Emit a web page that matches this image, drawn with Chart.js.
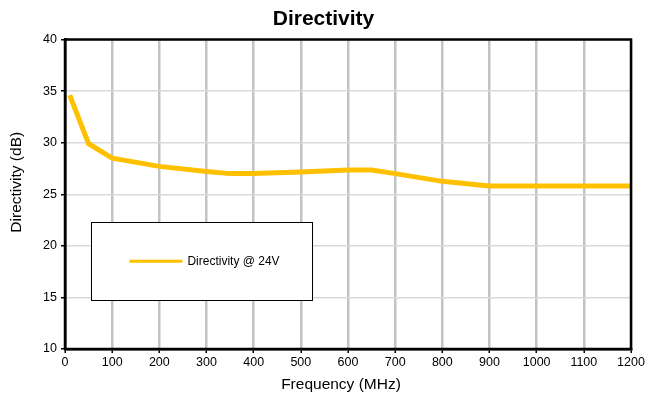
<!DOCTYPE html>
<html>
<head>
<meta charset="utf-8">
<script src="https://cdn.jsdelivr.net/npm/chart.js@4"></script>
<style>
html,body{margin:0;padding:0;background:#fff;}
#wrap{width:656px;height:400px;position:relative;}
</style>
</head>
<body>
<div id="wrap"><canvas id="c" width="656" height="400"></canvas></div>
<script>
const frequencies = [10, 50, 100, 200, 300, 350, 400, 500, 600, 650, 700, 800, 900, 1000, 1100, 1200];
const directivity = [34.6, 29.9, 28.5, 27.7, 27.2, 27.0, 27.0, 27.15, 27.35, 27.35, 27.0, 26.25, 25.8, 25.8, 25.8, 25.8];
const seriesLabel = 'Directivity @ 24V';
const chartTitle = 'Directivity';
const xTitle = 'Frequency (MHz)';
const yTitle = 'Directivity (dB)';

const FONT = 'Liberation Sans, Arial, sans-serif';

const frame = {
  id: 'frame',
  afterDraw(chart) {
    const {ctx, chartArea: a} = chart;
    ctx.save();
    ctx.strokeStyle = '#000';
    ctx.lineWidth = 2.5;
    ctx.strokeRect(a.left, a.top, a.right - a.left, a.bottom - a.top);
    ctx.restore();
  }
};

// axis titles placed like the original (centred on the whole chart box rather than the plot)
const axisTitles = {
  id: 'axisTitles',
  afterDraw(chart) {
    const {ctx, chartArea: a} = chart;
    ctx.save();
    ctx.fillStyle = '#000';
    ctx.font = '15.5px ' + FONT;
    ctx.textAlign = 'center';
    ctx.textBaseline = 'middle';
    ctx.fillText(xTitle, a.left + (a.right - a.left) / 2 - 7, 385);
    ctx.translate(17, a.top + (a.bottom - a.top) / 2 - 12);
    ctx.rotate(-Math.PI / 2);
    ctx.fillText(yTitle, 0, 0);
    ctx.restore();
  }
};

const innerLegend = {
  id: 'innerLegend',
  afterDraw(chart) {
    const {ctx} = chart;
    const xs = chart.scales.x, ys = chart.scales.y;
    const ds = chart.data.datasets[0];
    const x0 = xs.getPixelForValue(56), x1 = xs.getPixelForValue(525);
    const y0 = ys.getPixelForValue(22.3), y1 = ys.getPixelForValue(14.7);
    ctx.save();
    ctx.fillStyle = '#fff';
    ctx.fillRect(x0, y0, x1 - x0, y1 - y0);
    ctx.strokeStyle = '#000';
    ctx.lineWidth = 1;
    ctx.strokeRect(Math.round(x0) + 0.5, Math.round(y0) + 0.5, Math.round(x1 - x0), Math.round(y1 - y0));
    const ly = (y0 + y1) / 2;
    ctx.strokeStyle = ds.borderColor;
    ctx.lineWidth = 3;
    ctx.beginPath();
    ctx.moveTo(x0 + 38, ly);
    ctx.lineTo(x0 + 91, ly);
    ctx.stroke();
    ctx.fillStyle = '#000';
    ctx.font = '12px ' + FONT;
    ctx.textBaseline = 'middle';
    ctx.fillText(ds.label, x0 + 96, ly + 0.5);
    ctx.restore();
  }
};

new Chart(document.getElementById('c'), {
  type: 'line',
  data: {
    datasets: [{
      label: seriesLabel,
      data: frequencies.map((f, i) => ({x: f, y: directivity[i]})),
      borderColor: '#FFC000',
      borderWidth: 5,
      pointRadius: 0,
      tension: 0,
      fill: false
    }]
  },
  options: {
    responsive: false,
    animation: false,
    devicePixelRatio: 1,
    layout: {padding: {left: 16, right: 25, top: 0, bottom: 0}},
    plugins: {
      legend: {display: false},
      tooltip: {enabled: false},
      title: {
        display: true,
        text: chartTitle,
        color: '#000',
        font: {family: FONT, size: 21, weight: 'bold'},
        padding: {top: 7, bottom: 7.3}
      }
    },
    scales: {
      x: {
        type: 'linear',
        min: 0, max: 1200,
        afterFit(scale) { scale.height = 51; },
        ticks: {stepSize: 100, color: '#000', font: {family: FONT, size: 12.5}, padding: 2, maxRotation: 0,
                callback: v => String(v)},
        grid: {color: '#c3c3c3', lineWidth: 2.5, tickLength: 4, tickColor: '#000', tickWidth: 1.5},
        border: {color: '#000', width: 2.5}
      },
      y: {
        min: 10, max: 40,
        afterFit(scale) { scale.width = 49; },
        ticks: {stepSize: 5, color: '#000', font: {family: FONT, size: 12.5}, padding: 4},
        grid: {color: '#d9d9d9', lineWidth: 1.5, tickLength: 4, tickColor: '#000', tickWidth: 1.5},
        border: {color: '#000', width: 2.5}
      }
    }
  },
  plugins: [frame, axisTitles, innerLegend]
});
</script>
</body>
</html>
